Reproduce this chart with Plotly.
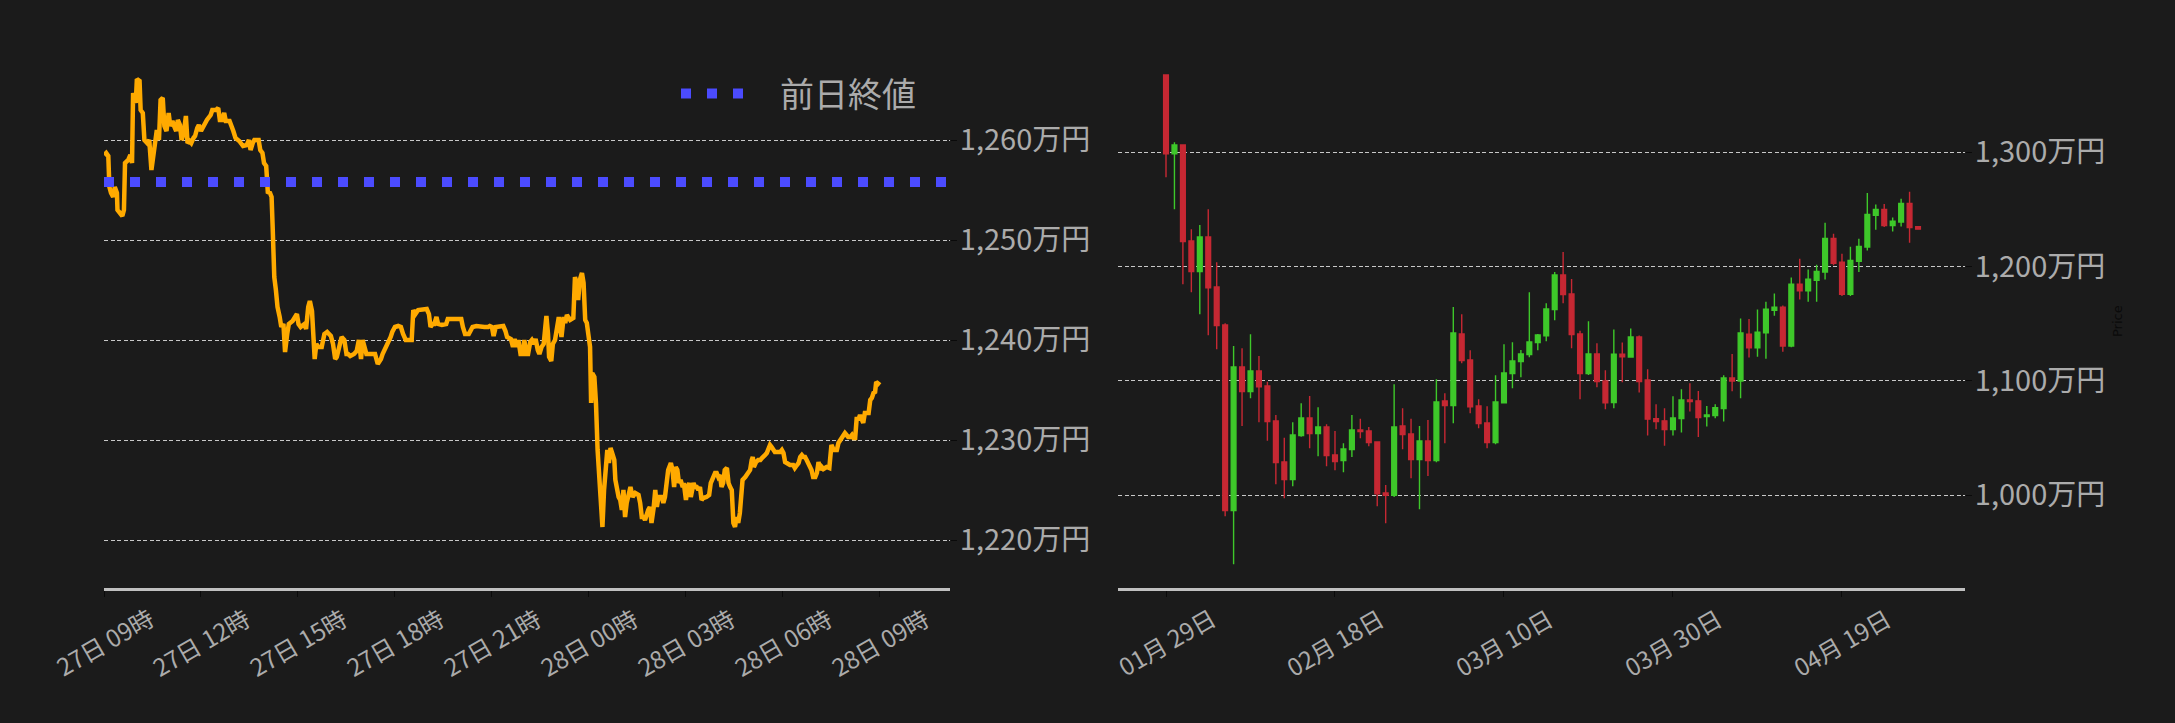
import pandas as pd
import plotly.graph_objects as go

BG = "#1b1b1b"
TXT = "#ababab"
GRID = "#c8c8c8"
FONT = "Noto Sans CJK JP"
W, H = 2175, 723

# ---------------- left: intraday price (万円), minutes since 2025-04-27 09:00
line_minutes = [
    0, 4, 8, 10, 13, 17, 20, 24, 25, 29,
    34, 37, 39, 45, 49, 52, 54, 59, 61, 66,
    68, 72, 75, 80, 84, 88, 91, 95, 98, 102,
    105, 109, 112, 116, 120, 123, 127, 130, 134, 137,
    141, 144, 148, 152, 155, 159, 162, 166, 169, 173,
    176, 180, 184, 187, 191, 198, 201, 208, 212, 215,
    219, 223, 226, 233, 237, 240, 244, 251, 258, 265,
    269, 272, 276, 279, 287, 290, 294, 297, 301, 304,
    308, 311, 313, 316, 319, 322, 326, 329, 333, 336,
    340, 343, 350, 358, 361, 365, 372, 375, 379, 382,
    386, 388, 391, 394, 398, 404, 409, 414, 421, 425,
    429, 432, 437, 441, 446, 450, 453, 457, 464, 469,
    473, 477, 480, 484, 487, 496, 503, 508, 514, 517,
    524, 532, 535, 540, 546, 551, 555, 560, 563, 571,
    574, 578, 583, 588, 593, 599, 603, 606, 610, 613,
    617, 620, 627, 635, 638, 645, 656, 663, 666, 670,
    677, 684, 691, 698, 706, 713, 716, 720, 723, 727,
    734, 741, 745, 748, 755, 759, 762, 766, 769, 773,
    777, 780, 784, 787, 791, 794, 798, 801, 805, 808,
    812, 816, 819, 821, 824, 826, 830, 833, 837, 840,
    844, 849, 853, 856, 859, 865, 871, 874, 877, 880,
    883, 887, 890, 893, 896, 899, 902, 904, 906, 910,
    913, 916, 919, 922, 925, 928, 931, 934, 937, 940,
    943, 947, 949, 952, 955, 958, 961, 964, 967, 970,
    973, 977, 981, 986, 992, 995, 998, 1001, 1004, 1007,
    1010, 1013, 1016, 1020, 1023, 1026, 1029, 1035, 1038, 1041,
    1044, 1047, 1052, 1055, 1058, 1061, 1064, 1067, 1070, 1074,
    1076, 1080, 1083, 1086, 1089, 1094, 1097, 1100, 1103, 1106,
    1109, 1112, 1118, 1123, 1126, 1130, 1134, 1137, 1140, 1143,
    1146, 1149, 1152, 1156, 1159, 1162, 1165, 1168, 1171, 1174,
    1177, 1180, 1183, 1185, 1190, 1196, 1199, 1202, 1204, 1206,
    1210, 1214, 1218, 1221, 1224, 1227, 1230, 1233, 1236, 1239,
    1242, 1245, 1248, 1255, 1258, 1261, 1264, 1267, 1273, 1279,
    1282, 1286, 1289, 1292, 1295, 1298, 1301, 1304, 1307, 1310,
    1313, 1316, 1320, 1323, 1326, 1329, 1332, 1335, 1338, 1341,
    1346, 1349, 1350, 1354, 1357, 1360, 1363, 1366, 1369, 1372,
    1375, 1378, 1381, 1385, 1388, 1391, 1394, 1397, 1400, 1403,
    1406, 1409, 1412, 1415, 1419, 1422, 1425, 1428, 1431, 1433,
    1435, 1440,
]
line_prices = [
    1258.5, 1258.7, 1258.4, 1255.3, 1254.7, 1254.3, 1255.3, 1254.7, 1253.0, 1252.7,
    1252.4, 1253.0, 1257.7, 1258.0, 1258.5, 1257.7, 1264.7, 1263.7, 1266.1, 1265.9,
    1263.0, 1262.7, 1260.0, 1259.7, 1260.0, 1257.0, 1258.0, 1259.4, 1261.0, 1260.0,
    1264.0, 1264.2, 1261.4, 1260.9, 1262.7, 1261.4, 1261.9, 1261.4, 1260.9, 1262.0,
    1261.5, 1260.0, 1260.7, 1262.4, 1259.7, 1259.9, 1259.7, 1260.2, 1260.4, 1261.2,
    1261.5, 1260.9, 1261.4, 1261.7, 1262.0, 1262.5, 1263.0, 1263.0, 1263.2, 1262.0,
    1262.0, 1262.7, 1261.9, 1261.9, 1261.4, 1260.9, 1260.2, 1259.9, 1259.4, 1259.5,
    1260.0, 1259.0, 1259.7, 1260.0, 1260.0, 1259.0, 1258.7, 1257.7, 1257.4, 1254.8,
    1254.7, 1254.3, 1251.3, 1246.3, 1245.0, 1243.3, 1242.3, 1241.3, 1241.6, 1238.8,
    1240.6, 1241.6, 1241.9, 1242.6, 1241.6, 1241.3, 1241.6, 1241.1, 1243.3, 1243.9,
    1242.9, 1239.9, 1238.1, 1239.6, 1239.3, 1239.3, 1240.6, 1240.8, 1240.4, 1239.6,
    1238.1, 1238.3, 1239.3, 1240.3, 1240.0, 1238.6, 1238.6, 1238.4, 1238.6, 1238.9,
    1240.0, 1238.1, 1240.0, 1239.3, 1238.6, 1238.6, 1238.6, 1237.6, 1238.1, 1238.6,
    1239.3, 1240.3, 1240.8, 1241.3, 1241.4, 1241.3, 1240.6, 1240.0, 1240.0, 1240.0,
    1243.0, 1242.6, 1243.0, 1243.0, 1243.0, 1243.1, 1242.6, 1241.3, 1241.6, 1241.6,
    1242.3, 1241.6, 1241.5, 1241.6, 1242.1, 1242.1, 1242.1, 1242.1, 1241.3, 1240.6,
    1240.6, 1241.3, 1241.4, 1241.3, 1241.3, 1241.3, 1241.4, 1241.3, 1240.4, 1241.3,
    1241.4, 1241.4, 1240.9, 1240.3, 1240.1, 1239.3, 1240.1, 1239.3, 1240.0, 1238.6,
    1238.6, 1240.0, 1238.6, 1238.6, 1239.8, 1240.0, 1239.6, 1240.1, 1239.0, 1238.6,
    1239.3, 1239.6, 1241.3, 1242.4, 1240.6, 1238.3, 1237.9, 1239.6, 1240.0, 1241.0,
    1242.3, 1240.3, 1242.3, 1241.7, 1242.5, 1242.0, 1242.2, 1246.3, 1245.7, 1244.0,
    1246.0, 1246.7, 1245.7, 1242.0, 1241.7, 1240.5, 1239.3, 1233.7, 1236.7, 1236.3,
    1233.7, 1229.0, 1226.0, 1223.0, 1221.3, 1225.0, 1227.0, 1229.0, 1227.7, 1229.2,
    1228.7, 1228.0, 1226.0, 1225.0, 1224.3, 1224.0, 1223.0, 1225.0, 1222.3, 1223.7,
    1224.3, 1225.3, 1224.3, 1224.7, 1224.5, 1223.7, 1222.3, 1222.3, 1222.0, 1222.7,
    1223.0, 1223.3, 1221.7, 1223.2, 1225.0, 1223.3, 1224.3, 1224.3, 1223.7, 1224.3,
    1226.3, 1227.0, 1227.7, 1227.0, 1225.3, 1227.3, 1227.0, 1225.7, 1226.0, 1225.3,
    1225.7, 1224.0, 1225.3, 1225.7, 1224.3, 1225.7, 1225.3, 1225.3, 1225.0, 1225.3,
    1224.0, 1224.2, 1224.3, 1224.5, 1225.7, 1226.3, 1226.7, 1226.7, 1226.3, 1226.5,
    1225.3, 1225.7, 1227.0, 1227.2, 1225.7, 1225.3, 1225.0, 1221.7, 1221.3, 1222.3,
    1221.7, 1222.7, 1225.7, 1226.0, 1226.3, 1226.7, 1227.0, 1228.0, 1228.3, 1227.3,
    1227.8, 1228.0, 1228.0, 1228.2, 1228.3, 1228.5, 1228.7, 1229.0, 1229.5, 1229.3,
    1229.0, 1228.8, 1228.8, 1228.8, 1229.0, 1228.7, 1227.8, 1227.7, 1227.5, 1227.5,
    1227.2, 1227.5, 1227.7, 1228.3, 1228.5, 1228.3, 1228.3, 1228.0, 1227.7, 1227.5,
    1227.0, 1226.3, 1226.3, 1226.7, 1227.8, 1227.0, 1227.3, 1227.1, 1227.2, 1227.3,
    1227.2, 1229.0, 1229.5, 1229.0, 1229.0, 1229.0, 1229.7, 1230.0, 1230.3, 1230.5,
    1230.7, 1230.5, 1230.3, 1230.3, 1230.5, 1230.2, 1230.2, 1232.3, 1232.0, 1232.5,
    1232.0, 1231.7, 1232.7, 1232.7, 1232.7, 1234.0, 1234.2, 1234.7, 1234.8, 1235.8,
    1235.7, 1235.5,
]
prev_close = 1255.8
line_start = pd.Timestamp("2025-04-27 09:00")
left_range_end = pd.Timestamp("2025-04-28 11:10")
left_y_range = [1215.2, 1269.0]
left_y_ticks = [1220, 1230, 1240, 1250, 1260]
left_tick_hours = [0, 3, 6, 9, 12, 15, 18, 21, 24]
left_tick_labels = ["27日 09時", "27日 12時", "27日 15時", "27日 18時", "27日 21時",
                    "28日 00時", "28日 03時", "28日 06時", "28日 09時"]

# ---------------- right: daily candles (万円) from 2025-01-29
candle_start = "2025-01-29"
opens = [
    1367.6, 1298.8, 1306.4, 1222.4, 1195.6, 1225.9, 1182.2, 1149.0, 986.6, 1112.2,
    1090.7, 1108.7, 1095.6, 1065.0, 1029.1, 1013.7, 1052.2, 1067.6, 1053.9, 1059.8,
    1035.3, 1030.3, 1039.9, 1057.1, 1056.3, 1046.6, 1002.0, 1000.0, 1060.6, 1053.6,
    1031.2, 1047.5, 1030.3, 1082.5, 1078.4, 1141.1, 1118.4, 1078.1, 1063.3, 1046.1,
    1081.0, 1106.4, 1116.9, 1123.0, 1133.5, 1139.6, 1162.4, 1192.7, 1176.1, 1141.1,
    1106.4, 1123.6, 1100.0, 1081.1, 1123.5, 1120.9, 1138.4, 1100.9, 1066.9, 1065.1,
    1057.6, 1067.1, 1083.4, 1082.6, 1068.9, 1069.8, 1075.9, 1102.6, 1100.0, 1141.0,
    1129.1, 1142.2, 1161.9, 1164.5, 1130.5, 1184.6, 1178.8, 1188.1, 1195.3, 1224.7,
    1203.8, 1175.9, 1204.7, 1217.2, 1244.8, 1250.0, 1236.0, 1239.0, 1255.2, 1234.9,
]
highs = [
    1368.0, 1308.7, 1306.6, 1232.7, 1236.4, 1250.1, 1203.8, 1150.4, 1130.6, 1128.6,
    1140.8, 1121.9, 1099.4, 1070.3, 1050.4, 1063.8, 1080.4, 1086.9, 1077.0, 1062.1,
    1056.3, 1045.5, 1070.3, 1067.0, 1059.8, 1046.9, 1009.0, 1097.1, 1076.1, 1067.0,
    1060.6, 1065.9, 1101.5, 1089.2, 1164.7, 1158.3, 1126.8, 1084.0, 1077.8, 1105.0,
    1132.1, 1133.8, 1127.1, 1177.5, 1141.1, 1167.9, 1195.3, 1212.8, 1189.1, 1144.0,
    1152.2, 1132.9, 1109.3, 1145.1, 1133.7, 1145.9, 1139.8, 1110.2, 1079.6, 1076.2,
    1086.6, 1092.7, 1098.0, 1091.3, 1078.2, 1079.6, 1104.9, 1123.5, 1154.6, 1154.1,
    1162.5, 1169.2, 1176.5, 1166.0, 1190.4, 1207.0, 1197.4, 1201.7, 1238.4, 1228.8,
    1211.3, 1217.4, 1224.4, 1264.5, 1254.4, 1254.9, 1243.0, 1259.3, 1265.4, 1234.9,
]
lows = [
    1278.1, 1250.1, 1184.5, 1177.5, 1158.3, 1139.9, 1127.7, 981.6, 939.6, 1060.6,
    1084.8, 1063.8, 1047.8, 1009.6, 997.4, 1007.9, 1051.3, 1041.1, 1034.1, 1025.4,
    1021.9, 1020.1, 1033.5, 1049.8, 1042.9, 990.4, 975.5, 998.5, 1040.2, 1014.9,
    987.8, 1016.9, 1028.9, 1045.5, 1063.0, 1115.4, 1071.7, 1058.6, 1041.1, 1044.6,
    1080.2, 1093.6, 1103.2, 1120.7, 1126.8, 1134.7, 1153.1, 1167.9, 1128.6, 1083.9,
    1105.2, 1094.5, 1075.2, 1076.2, 1098.8, 1120.6, 1089.8, 1052.3, 1057.8, 1043.3,
    1052.3, 1054.9, 1073.3, 1050.9, 1060.2, 1067.4, 1064.5, 1091.0, 1084.9, 1120.6,
    1121.2, 1119.5, 1157.0, 1125.6, 1129.4, 1171.2, 1169.2, 1169.2, 1188.7, 1201.2,
    1174.4, 1174.4, 1195.3, 1214.2, 1232.3, 1234.6, 1230.8, 1235.2, 1220.9, 1232.8,
]
closes = [
    1298.8, 1306.4, 1221.9, 1195.6, 1225.9, 1181.6, 1148.4, 986.6, 1112.2, 1090.7,
    1108.7, 1095.0, 1064.4, 1028.6, 1013.7, 1052.8, 1067.6, 1053.9, 1059.8, 1034.7,
    1029.4, 1040.5, 1057.1, 1055.7, 1046.1, 1001.4, 1000.0, 1059.8, 1053.1, 1031.2,
    1047.5, 1030.3, 1081.6, 1078.4, 1142.0, 1117.8, 1077.5, 1062.7, 1046.1, 1081.6,
    1107.0, 1117.5, 1123.6, 1134.1, 1140.2, 1163.0, 1192.7, 1175.5, 1140.5, 1106.4,
    1123.6, 1099.4, 1081.0, 1123.5, 1121.2, 1138.4, 1099.4, 1066.6, 1064.5, 1057.6,
    1067.7, 1083.4, 1081.9, 1068.0, 1070.3, 1076.7, 1102.6, 1100.0, 1141.9, 1129.1,
    1142.7, 1162.8, 1164.5, 1130.5, 1184.6, 1178.8, 1189.0, 1195.9, 1224.7, 1202.9,
    1175.9, 1205.5, 1217.7, 1245.6, 1250.0, 1236.0, 1239.8, 1255.2, 1234.3, 1232.8,
]
right_range = ["2025-01-23 07:40", "2025-05-03 13:26"]
right_y_range = [918.9, 1389.5]
right_y_ticks = [1000, 1100, 1200, 1300]
right_tick_dates = ["2025-01-29", "2025-02-18", "2025-03-10", "2025-03-30", "2025-04-19"]
right_tick_labels = ["01月 29日", "02月 18日", "03月 10日", "03月 30日", "04月 19日"]

# ---------------- build
line_times = [line_start + pd.Timedelta(minutes=m) for m in line_minutes]
left_ticks = [line_start + pd.Timedelta(hours=h) for h in left_tick_hours]
candle_dates = pd.date_range(candle_start, periods=len(opens), freq="D")


def yen_labels(vals):
    return [f"{v:,}万円" for v in vals]


# plot areas in pixels -> paper fractions
L_X = [104 / W, 950 / W]
R_X = [1118 / W, 1965 / W]
Y_DOM = [(H - 588) / H, (H - 50) / H]

fig = go.Figure()
fig.add_trace(go.Scatter(
    x=line_times, y=line_prices, mode="lines",
    line=dict(color="#ffaa00", width=4.5), showlegend=False,
    xaxis="x", yaxis="y",
))
fig.add_trace(go.Scatter(
    x=[line_start, left_range_end], y=[prev_close, prev_close], mode="lines",
    line=dict(color="#4b4bff", width=10, dash="10px,16px"),
    name="前日終値", legendgroup="pc", showlegend=False, xaxis="x", yaxis="y",
))
# legend entry only (three square dots like the reference key)
fig.add_trace(go.Scatter(
    x=[None], y=[None], mode="lines",
    line=dict(color="#4b4bff", width=10, dash="10px,16px,10px,16px,10px,400px"),
    name="前日終値", legendgroup="pc", showlegend=True, xaxis="x", yaxis="y",
))
fig.add_trace(go.Candlestick(
    x=candle_dates, open=opens, high=highs, low=lows, close=closes,
    increasing=dict(line=dict(color="#3ec82a", width=1.4), fillcolor="#3ec82a"),
    decreasing=dict(line=dict(color="#c62833", width=1.4), fillcolor="#c62833"),
    whiskerwidth=0, showlegend=False, xaxis="x2", yaxis="y2",
))

common_x = dict(
    type="date", showgrid=False, zeroline=False, showticklabels=False,
    ticks="outside", ticklen=6, tickwidth=1, tickcolor="#0a0a0a",
    showline=True, linecolor="#c0c0c0", linewidth=3, automargin=False,
)
common_y = dict(
    side="right", showgrid=True, gridcolor=GRID, gridwidth=1, griddash="4px,2.5px",
    zeroline=False, showline=False, ticks="outside", ticklen=6, tickcolor="#0a0a0a",
    tickmode="array", tickfont=dict(size=29, color=TXT, family=FONT),
    ticklabelstandoff=-3, automargin=False,
)

fig.update_layout(
    width=W, height=H,
    margin=dict(l=0, r=0, t=0, b=0),
    paper_bgcolor=BG, plot_bgcolor=BG,
    font=dict(family=FONT, color=TXT),
    hovermode=False,
    xaxis=dict(domain=L_X, anchor="y", range=[line_start, left_range_end],
               tickvals=left_ticks, **common_x),
    yaxis=dict(domain=Y_DOM, anchor="x", range=left_y_range, tickvals=left_y_ticks,
               ticktext=yen_labels(left_y_ticks), **common_y),
    xaxis2=dict(domain=R_X, anchor="y2", range=right_range, tickvals=right_tick_dates,
                rangeslider=dict(visible=False), **common_x),
    yaxis2=dict(domain=Y_DOM, anchor="x2", range=right_y_range, tickvals=right_y_ticks,
                ticktext=yen_labels(right_y_ticks), **common_y),
    boxgap=0.3, boxgroupgap=0.2,
    showlegend=True,
    legend=dict(x=676 / W, y=(H - 94) / H, xanchor="left", yanchor="middle",
                bgcolor="rgba(0,0,0,0)", font=dict(size=34, color=TXT, family=FONT),
                itemwidth=94),
)

annotations = []
lab_y = (H - 641) / H
for t, lab in zip(left_ticks, left_tick_labels):
    annotations.append(dict(x=t, y=lab_y, xref="x", yref="paper", text=lab, showarrow=False,
                            textangle=-30, xanchor="center", yanchor="middle",
                            font=dict(size=24, color=TXT, family=FONT)))
for d, lab in zip(right_tick_dates, right_tick_labels):
    annotations.append(dict(x=d, y=lab_y, xref="x2", yref="paper", text=lab, showarrow=False,
                            textangle=-30, xanchor="center", yanchor="middle",
                            font=dict(size=24, color=TXT, family=FONT)))
annotations.append(dict(x=2117 / W, y=(H - 321) / H, xref="paper", yref="paper", text="Price",
                        showarrow=False, textangle=-90, xanchor="center", yanchor="middle",
                        font=dict(size=13, color="#0a0a0a", family="DejaVu Sans")))
fig.update_layout(annotations=annotations)

fig.write_html(
    "out.html",
    config={"displayModeBar": False},
    post_script="document.body.style.margin='0';document.body.style.background='#1b1b1b';"
                "document.documentElement.style.background='#1b1b1b';",
)
